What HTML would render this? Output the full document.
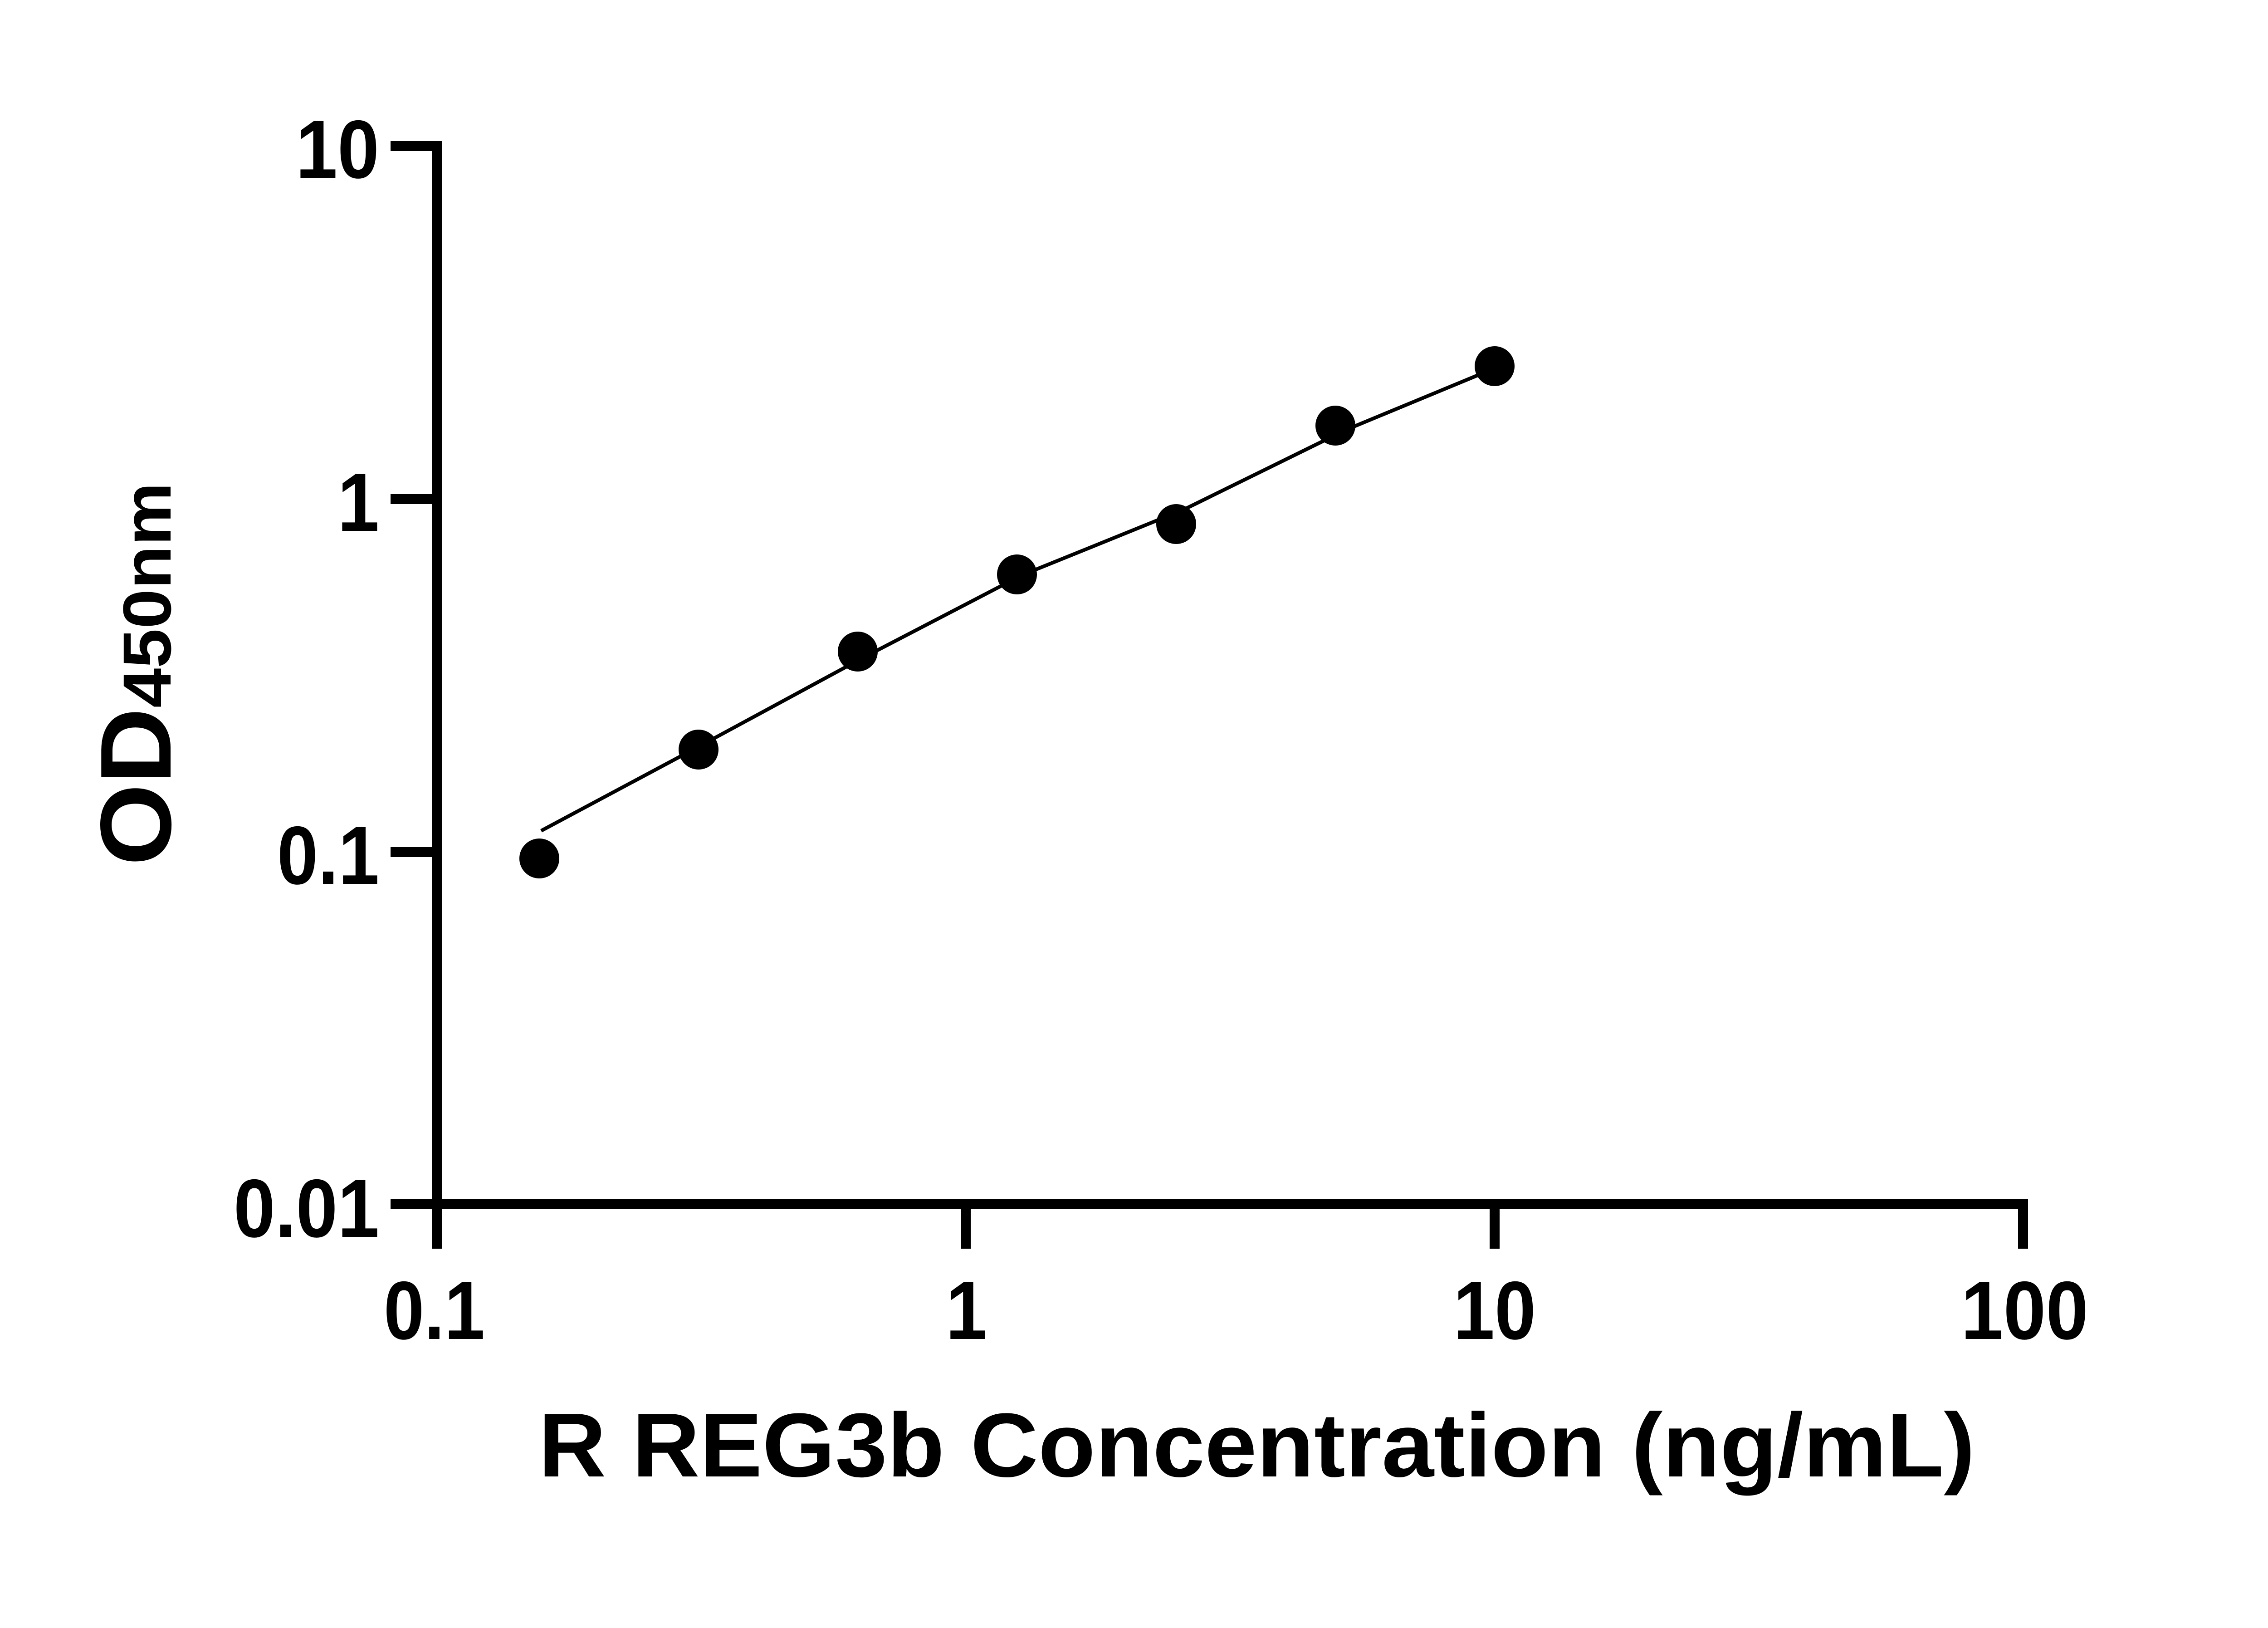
<!DOCTYPE html>
<html><head><meta charset="utf-8"><style>html,body{margin:0;padding:0;background:#fff}svg{display:block}</style></head>
<body>
<svg width="5142" height="3588" viewBox="0 0 5142 3588" xmlns="http://www.w3.org/2000/svg">
<rect width="5142" height="3588" fill="#fff"/>
<g stroke="#000" stroke-width="22" fill="none" stroke-linecap="butt">
<line x1="963" y1="311" x2="963" y2="2752"/>
<line x1="952" y1="2654" x2="4471" y2="2654"/>
<line x1="861" y1="322" x2="974" y2="322"/>
<line x1="861" y1="1100" x2="963" y2="1100"/>
<line x1="861" y1="1878" x2="963" y2="1878"/>
<line x1="861" y1="2654" x2="963" y2="2654"/>
<line x1="2129" y1="2654" x2="2129" y2="2752"/>
<line x1="3295" y1="2654" x2="3295" y2="2752"/>
<line x1="4460" y1="2643" x2="4460" y2="2752"/>
</g>
<polyline fill="none" stroke="#000" stroke-width="8" points="1193,1831 1545,1643 1900,1451 2252,1268 2610,1123 2968,947 3270,822 3300,810"/>
<g fill="#000">
<circle cx="1189" cy="1892" r="44"/>
<circle cx="1540" cy="1652" r="44"/>
<circle cx="1891" cy="1436" r="44"/>
<circle cx="2242" cy="1266" r="44"/>
<circle cx="2593" cy="1155" r="44"/>
<circle cx="2944" cy="938" r="44"/>
<circle cx="3295" cy="807" r="44"/>
</g>
<g font-family="Liberation Sans, Arial, sans-serif" font-weight="bold" font-size="182" fill="#000">
<text x="652" y="392" textLength="184" lengthAdjust="spacingAndGlyphs">10</text>
<text x="744" y="1170" textLength="92" lengthAdjust="spacingAndGlyphs">1</text>
<text x="611" y="1948" textLength="225" lengthAdjust="spacingAndGlyphs">0.1</text>
<text x="515" y="2726" textLength="321" lengthAdjust="spacingAndGlyphs">0.01</text>
<text x="846" y="2951" textLength="223" lengthAdjust="spacingAndGlyphs">0.1</text>
<text x="2085" y="2951" textLength="91" lengthAdjust="spacingAndGlyphs">1</text>
<text x="3204" y="2951" textLength="182" lengthAdjust="spacingAndGlyphs">10</text>
<text x="4323" y="2951" textLength="281" lengthAdjust="spacingAndGlyphs">100</text>
</g>
<text x="1187" y="3254" font-family="Liberation Sans, Arial, sans-serif" font-weight="bold" font-size="200" textLength="3167" lengthAdjust="spacingAndGlyphs">R REG3b Concentration (ng/mL)</text>
<text transform="translate(376,1908) rotate(-90)" font-family="Liberation Sans, Arial, sans-serif" font-weight="bold" textLength="845" lengthAdjust="spacingAndGlyphs"><tspan font-size="222">OD</tspan><tspan font-size="150">450nm</tspan></text>
</svg>
</body></html>
